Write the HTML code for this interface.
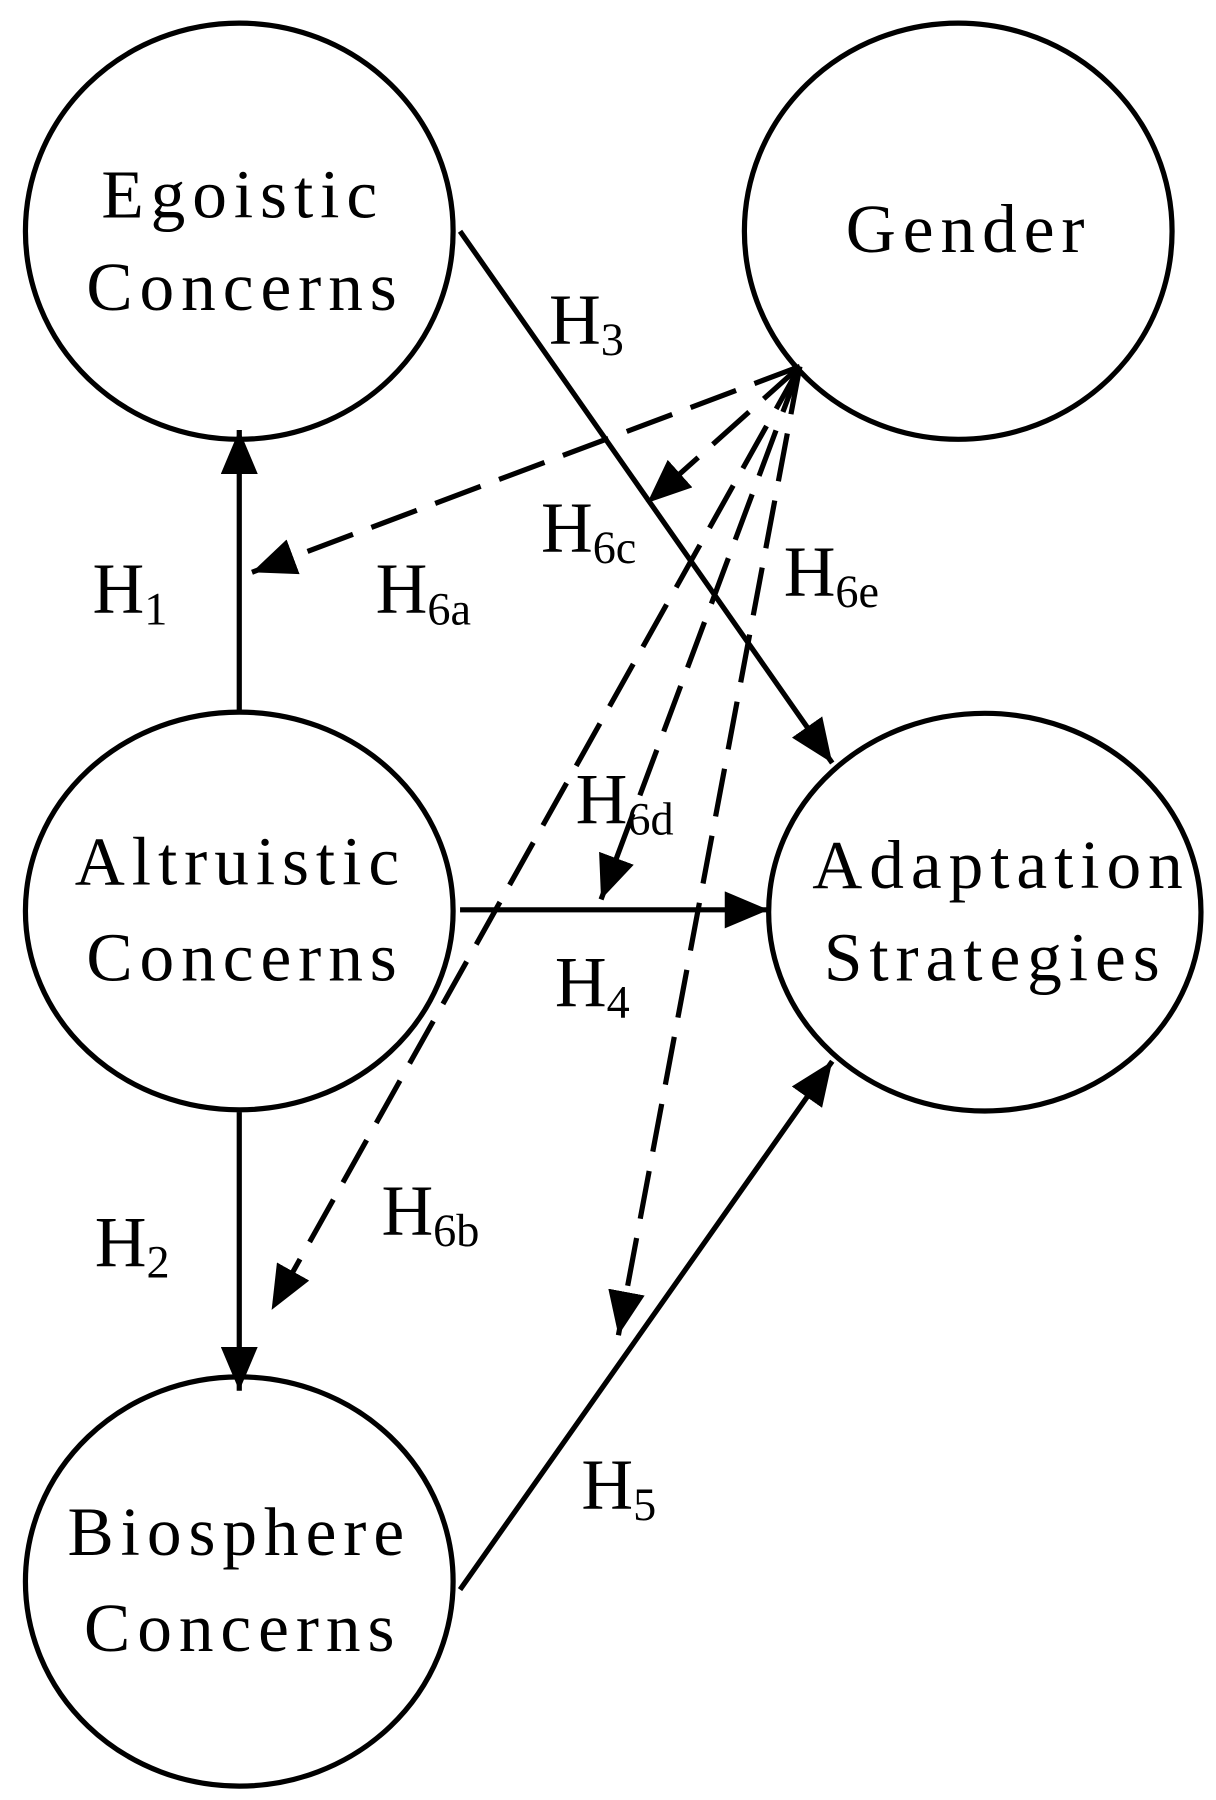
<!DOCTYPE html>
<html><head><meta charset="utf-8"><style>
html,body{margin:0;padding:0;background:#fff;}
svg{display:block;}
text{font-family:"Liberation Serif",serif;fill:#000;}
</style></head><body>
<svg width="1216" height="1800" viewBox="0 0 1052 1557" preserveAspectRatio="none" xmlns="http://www.w3.org/2000/svg">
<defs>
<marker id="a" markerUnits="userSpaceOnUse" markerWidth="40" markerHeight="32" refX="38" refY="16" orient="auto">
<path d="M0,0 L38,16 L0,32 Z" fill="#000"/>
</marker>
</defs>
<g fill="none" stroke="#000" stroke-width="4.5">
<ellipse cx="207" cy="200" rx="185" ry="180"/>
<ellipse cx="829" cy="200" rx="185" ry="180"/>
<ellipse cx="207" cy="788" rx="185" ry="172"/>
<ellipse cx="852" cy="789" rx="187" ry="172"/>
<ellipse cx="207" cy="1368" rx="185" ry="177"/>
</g>
<g stroke="#000" stroke-width="4.5" fill="none">
<line x1="207" y1="615" x2="207" y2="372" marker-end="url(#a)"/>
<line x1="207" y1="962" x2="207" y2="1203" marker-end="url(#a)"/>
<line x1="398" y1="200" x2="720" y2="660" marker-end="url(#a)"/>
<line x1="398" y1="787" x2="665" y2="787" marker-end="url(#a)"/>
<line x1="398" y1="1375" x2="720" y2="918" marker-end="url(#a)"/>
</g>
<g stroke="#000" stroke-width="4.5" fill="none" stroke-dasharray="42 17">
<line x1="692" y1="317" x2="218" y2="495" marker-end="url(#a)"/>
<line x1="692" y1="317" x2="560" y2="435" marker-end="url(#a)"/>
<line x1="692" y1="317" x2="235" y2="1133" marker-end="url(#a)"/>
<line x1="692" y1="317" x2="520" y2="778" marker-end="url(#a)"/>
<line x1="692" y1="317" x2="535" y2="1155" marker-end="url(#a)"/>
</g>
<g font-size="60" text-anchor="middle" letter-spacing="6">
<text x="210" y="188">Egoistic</text>
<text x="212" y="268">Concerns</text>
<text x="838" y="218">Gender</text>
<text x="208" y="765">Altruistic</text>
<text x="212" y="848">Concerns</text>
<text x="866" y="768">Adaptation</text>
<text x="861" y="848">Strategies</text>
<text x="207" y="1345">Biosphere</text>
<text x="210" y="1428">Concerns</text>
</g>
<g font-size="62">
<text x="80" y="530">H<tspan font-size="40" dy="10">1</tspan></text>
<text x="82" y="1095">H<tspan font-size="40" dy="10">2</tspan></text>
<text x="475" y="297">H<tspan font-size="40" dy="10">3</tspan></text>
<text x="480" y="870">H<tspan font-size="40" dy="10">4</tspan></text>
<text x="503" y="1305">H<tspan font-size="40" dy="10">5</tspan></text>
<text x="325" y="530">H<tspan font-size="40" dy="10">6a</tspan></text>
<text x="330" y="1068">H<tspan font-size="40" dy="10">6b</tspan></text>
<text x="468" y="477">H<tspan font-size="40" dy="10">6c</tspan></text>
<text x="498" y="712">H<tspan font-size="40" dy="10">6d</tspan></text>
<text x="678" y="515">H<tspan font-size="40" dy="10">6e</tspan></text>
</g>
</svg>
</body></html>
